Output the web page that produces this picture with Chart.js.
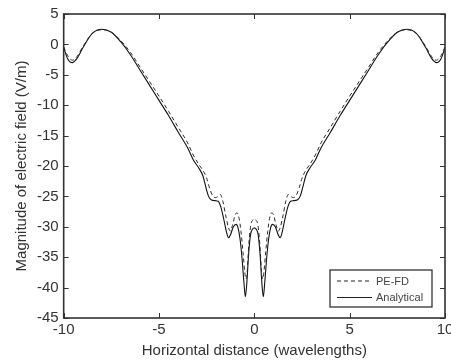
<!DOCTYPE html>
<html>
<head>
<meta charset="utf-8">
<script src="https://cdn.jsdelivr.net/npm/chart.js@4.4.0/dist/chart.umd.min.js"></script>
<style>
  html, body { margin: 0; padding: 0; background: #fff; overflow: hidden; }
  #wrap { width: 470px; height: 363px; }
</style>
</head>
<body>
<div id="wrap"><canvas id="chart"></canvas></div>
<script>
const analyticalX = [-10,-9.8,-9.55,-9.3,-9,-8.5,-8,-7.5,-7,-6.5,-6,-5.5,-5,-4.5,-4,-3.5,-3.2,-2.9,-2.7,-2.55,-2.4,-2.25,-2.05,-1.9,-1.75,-1.6,-1.45,-1.35,-1.25,-1.1,-0.95,-0.85,-0.75,-0.65,-0.55,-0.47,-0.4,-0.3,-0.2,-0.1,0,0.1,0.2,0.3,0.4,0.47,0.55,0.65,0.75,0.85,0.95,1.1,1.25,1.35,1.45,1.6,1.75,1.9,2.05,2.25,2.4,2.55,2.7,2.9,3.2,3.5,4,4.5,5,5.5,6,6.5,7,7.5,8,8.5,9,9.3,9.55,9.8,10]
const analyticalY = [-0.5,-2.3,-3.0,-2.3,-0.6,1.8,2.5,2.0,0.4,-1.7,-4.2,-6.7,-9.2,-11.7,-14.4,-17.0,-19.0,-20.4,-21.6,-23.4,-25.0,-25.6,-25.7,-25.8,-26.8,-28.8,-31.0,-31.8,-31.3,-30.0,-29.6,-30.2,-32.0,-35.0,-39.0,-41.5,-39.5,-34.5,-31.3,-30.4,-30.2,-30.4,-31.3,-34.5,-39.5,-41.5,-39.0,-35.0,-32.0,-30.2,-29.6,-30.0,-31.3,-31.8,-31.0,-28.8,-26.8,-25.8,-25.7,-25.6,-25.0,-23.4,-21.6,-20.4,-19.0,-17.0,-14.4,-11.7,-9.2,-6.7,-4.2,-1.7,0.4,2.0,2.5,1.8,-0.6,-2.3,-3.0,-2.3,-0.5]

const pefdX = [-10,-9.8,-9.55,-9.3,-9,-8.5,-8,-7.5,-7,-6.5,-6,-5.5,-5,-4.5,-4,-3.5,-3.2,-2.9,-2.7,-2.5,-2.35,-2.2,-2.05,-1.9,-1.78,-1.65,-1.5,-1.35,-1.26,-1.15,-1,-0.91,-0.8,-0.7,-0.6,-0.5,-0.44,-0.38,-0.28,-0.18,-0.08,0,0.08,0.18,0.28,0.38,0.44,0.5,0.6,0.7,0.8,0.91,1,1.15,1.26,1.35,1.5,1.65,1.78,1.9,2.05,2.2,2.35,2.5,2.7,2.9,3.2,3.5,4,4.5,5,5.5,6,6.5,7,7.5,8,8.5,9,9.3,9.55,9.8,10]
const pefdY = [-0.4,-1.8,-2.6,-2.0,-0.4,1.8,2.4,2.0,0.6,-1.3,-3.7,-6.1,-8.5,-11.0,-13.6,-16.2,-18.2,-19.8,-20.7,-22.0,-23.6,-24.8,-25.2,-25.0,-24.7,-25.8,-28.2,-30.2,-30.7,-29.8,-28.0,-27.7,-28.6,-30.8,-34.0,-37.5,-38.6,-37.5,-32.5,-29.6,-28.9,-28.7,-28.9,-29.6,-32.5,-37.5,-38.6,-37.5,-34.0,-30.8,-28.6,-27.7,-28.0,-29.8,-30.7,-30.2,-28.2,-25.8,-24.7,-25.0,-25.2,-24.8,-23.6,-22.0,-20.7,-19.8,-18.2,-16.2,-13.6,-11.0,-8.5,-6.1,-3.7,-1.3,0.6,2.0,2.4,1.8,-0.4,-2.0,-2.6,-1.8,-0.4]

const xTicks = [-10, -5, 0, 5, 10]
const yTicks = [5, 0, -5, -10, -15, -20, -25, -30, -35, -40, -45]

function toPoints(xs, ys) {
  return xs.map(function(x, i) { return {x: x, y: ys[i]}; });
}

const fontFamily = '"Liberation Sans", Arial, Helvetica, sans-serif';
const ink = '#333333';

// box round the plot, ticks pointing inwards on all four sides
const framePlugin = {
  id: 'frame',
  afterDraw(chart) {
    const ctx = chart.ctx;
    const a = chart.chartArea;
    const xs = chart.scales.x, ys = chart.scales.y;
    ctx.save();
    ctx.strokeStyle = ink;
    ctx.lineWidth = 1;
    xTicks.forEach(function(v) {
      const px = Math.round(xs.getPixelForValue(v)) + 0.5;
      ctx.beginPath();
      ctx.moveTo(px, a.bottom); ctx.lineTo(px, a.bottom - 5);
      ctx.moveTo(px, a.top); ctx.lineTo(px, a.top + 5);
      ctx.stroke();
    });
    yTicks.forEach(function(v) {
      const py = Math.round(ys.getPixelForValue(v)) + 0.5;
      ctx.beginPath();
      ctx.moveTo(a.left, py); ctx.lineTo(a.left + 5, py);
      ctx.moveTo(a.right, py); ctx.lineTo(a.right - 5, py);
      ctx.stroke();
    });
    ctx.lineWidth = 1.6;
    ctx.strokeRect(a.left, a.top, a.right - a.left, a.bottom - a.top);

    // legend box in the lower right corner
    const w = 102, h = 37;
    const lx = a.right - 13 - w, ly = a.bottom - 11 - h;
    ctx.fillStyle = '#fff';
    ctx.fillRect(lx, ly, w, h);
    ctx.lineWidth = 1.3;
    ctx.strokeRect(lx, ly, w, h);
    ctx.font = '11px ' + fontFamily;
    ctx.textBaseline = 'middle';
    chart.data.datasets.forEach(function(ds, i) {
      const y = ly + 11 + i * 16.5;
      ctx.strokeStyle = '#222';
      ctx.lineWidth = 1;
      ctx.setLineDash(ds.borderDash || []);
      ctx.beginPath();
      ctx.moveTo(lx + 7, y); ctx.lineTo(lx + 42, y);
      ctx.stroke();
      ctx.setLineDash([]);
      ctx.fillStyle = '#444';
      ctx.fillText(ds.label, lx + 46, y + 0.5);
    });
    ctx.restore();
  }
};

new Chart(document.getElementById('chart'), {
  type: 'line',
  data: {
    datasets: [
      {
        label: 'PE-FD',
        data: toPoints(pefdX, pefdY),
        borderColor: '#2a2a2a',
        borderWidth: 1,
        borderDash: [4, 3],
        pointRadius: 0,
        cubicInterpolationMode: 'monotone',
        fill: false
      },
      {
        label: 'Analytical',
        data: toPoints(analyticalX, analyticalY),
        borderColor: '#111',
        borderWidth: 1.1,
        pointRadius: 0,
        cubicInterpolationMode: 'monotone',
        fill: false
      }
    ]
  },
  options: {
    responsive: true,
    maintainAspectRatio: false,
    animation: false,
    layout: { padding: { left: 13, right: 25, top: 13, bottom: 3 } },
    plugins: {
      legend: { display: false },
      tooltip: { enabled: false }
    },
    scales: {
      x: {
        type: 'linear',
        min: -10,
        max: 10,
        afterBuildTicks(scale) { scale.ticks = xTicks.map(function(v) { return {value: v}; }); },
        grid: { display: false, drawTicks: false },
        border: { display: false },
        ticks: { color: ink, font: { family: fontFamily, size: 15 }, padding: 3, maxRotation: 0 },
        title: {
          display: true,
          text: 'Horizontal distance (wavelengths)',
          color: ink,
          font: { family: fontFamily, size: 15 },
          padding: { top: 0, bottom: 0 }
        }
      },
      y: {
        min: -45,
        max: 5,
        afterBuildTicks(scale) { scale.ticks = yTicks.map(function(v) { return {value: v}; }); },
        grid: { display: false, drawTicks: false },
        border: { display: false },
        ticks: { color: ink, font: { family: fontFamily, size: 15 }, padding: 5 },
        title: {
          display: true,
          text: 'Magnitude of electric field (V/m)',
          color: ink,
          font: { family: fontFamily, size: 15 },
          padding: { top: 0, bottom: 1 }
        }
      }
    }
  },
  plugins: [framePlugin]
});
</script>
</body>
</html>
